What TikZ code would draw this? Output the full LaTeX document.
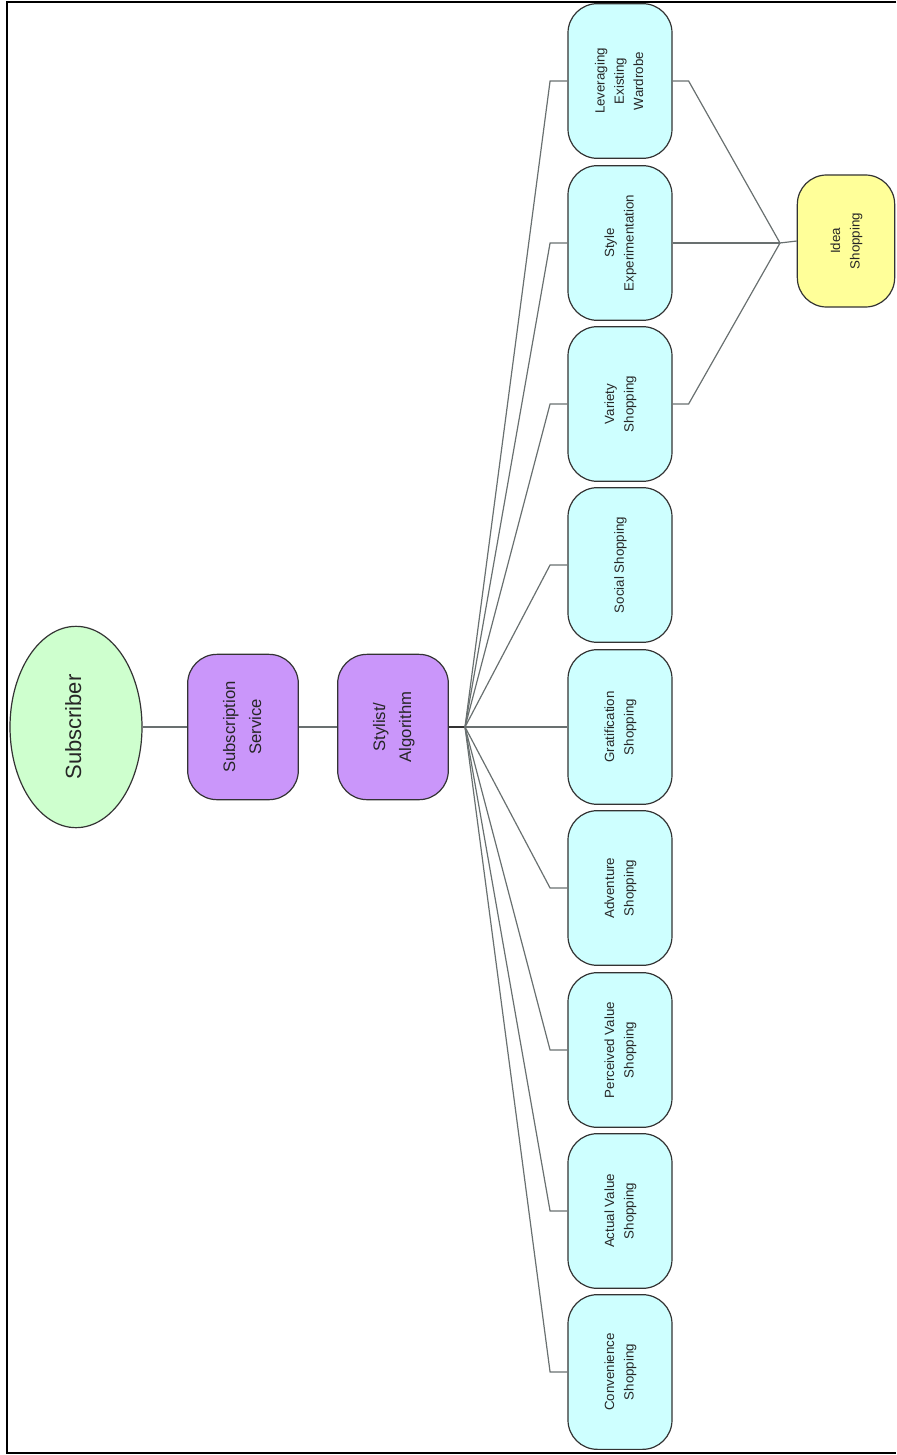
\documentclass[tikz,border=0pt]{standalone}
\usepackage{fontspec}
\setmainfont{Liberation Sans}
\usepackage{xcolor}
\usetikzlibrary{shapes.geometric, positioning, calc}

\definecolor{shopcyan}{RGB}{206,255,255}
\definecolor{servpurple}{RGB}{202,150,250}
\definecolor{subgreen}{RGB}{206,255,206}
\definecolor{ideayellow}{RGB}{255,255,153}
\definecolor{linkgray}{RGB}{105,112,112}

\newcommand{\vtext}[1]{\rotatebox{90}{\begin{tabular}{@{}c@{}}#1\end{tabular}}}

\begin{document}
\begin{tikzpicture}[
    x=0.75pt, y=-0.75pt,
    base/.style = {rectangle, rounded corners=22pt, draw=black!80, line width=0.9pt, inner sep=0pt, text=black!85},
    shop/.style = {base, fill=shopcyan, minimum width=78pt, minimum height=116pt, font=\fontsize{10}{14.5}\selectfont},
    serv/.style = {base, fill=servpurple, minimum width=83pt, minimum height=109pt, font=\fontsize{12.5}{19.5}\selectfont},
    idea/.style = {base, fill=ideayellow, minimum width=73pt, minimum height=99pt, font=\fontsize{10}{14.5}\selectfont},
    user/.style = {ellipse, draw=black!80, line width=0.9pt, fill=subgreen, minimum width=99pt, minimum height=151pt, inner sep=0pt, font=\fontsize{16.5}{19}\selectfont, text=black!85},
    link/.style = {draw=linkgray, line width=0.9pt}
]
    \useasboundingbox (0,0) rectangle (896,1455);
    % frame
    \draw[line width=1.3pt] (896,2) -- (7,2) -- (7,1453) -- (896,1453);

    % main chain
    \node[user] (subscriber) at (76,727) {\vtext{Subscriber}};
    \node[serv] (service) at (243,727) {\vtext{Subscription\\Service}};
    \node[serv] (stylist) at (393,727) {\vtext{Stylist/\\Algorithm}};
    \coordinate (hub) at (465,727);

    % shopping motives
    \foreach \name/\yc/\txt in {
        lev/81/{Leveraging\\Existing\\Wardrobe},
        sty/243/{Style\\Experimentation},
        var/404/{Variety\\Shopping},
        soc/565/{Social Shopping},
        gra/727/{Gratification\\Shopping},
        adv/888/{Adventure\\Shopping},
        per/1050/{Perceived Value\\Shopping},
        act/1211/{Actual Value\\Shopping},
        con/1372/{Convenience\\Shopping}}
        \node[shop] (\name) at (620,\yc) {\vtext{\txt}};

    \node[idea] (idea) at (846,241) {\vtext{Idea\\Shopping}};
    \coordinate (join) at (780,243);

    % connectors
    \draw[link] (subscriber) -- (service);
    \draw[link] (service) -- (stylist);
    \draw[link, draw=black!80] (stylist) -- (hub);
    \foreach \name in {lev,sty,var,soc,adv,per,act,con}
        \draw[link] (hub) -- ([xshift=-13pt]\name.west) -- (\name.west);
    \draw[link] (hub) -- (gra.west);

    \draw[link] (lev.east) -- ([xshift=12pt]lev.east) -- (join);
    \draw[link] (sty.east) -- (join);
    \draw[link] (var.east) -- ([xshift=12pt]var.east) -- (join);
    \draw[link] (join) -- (idea.west);
\end{tikzpicture}
\end{document}
